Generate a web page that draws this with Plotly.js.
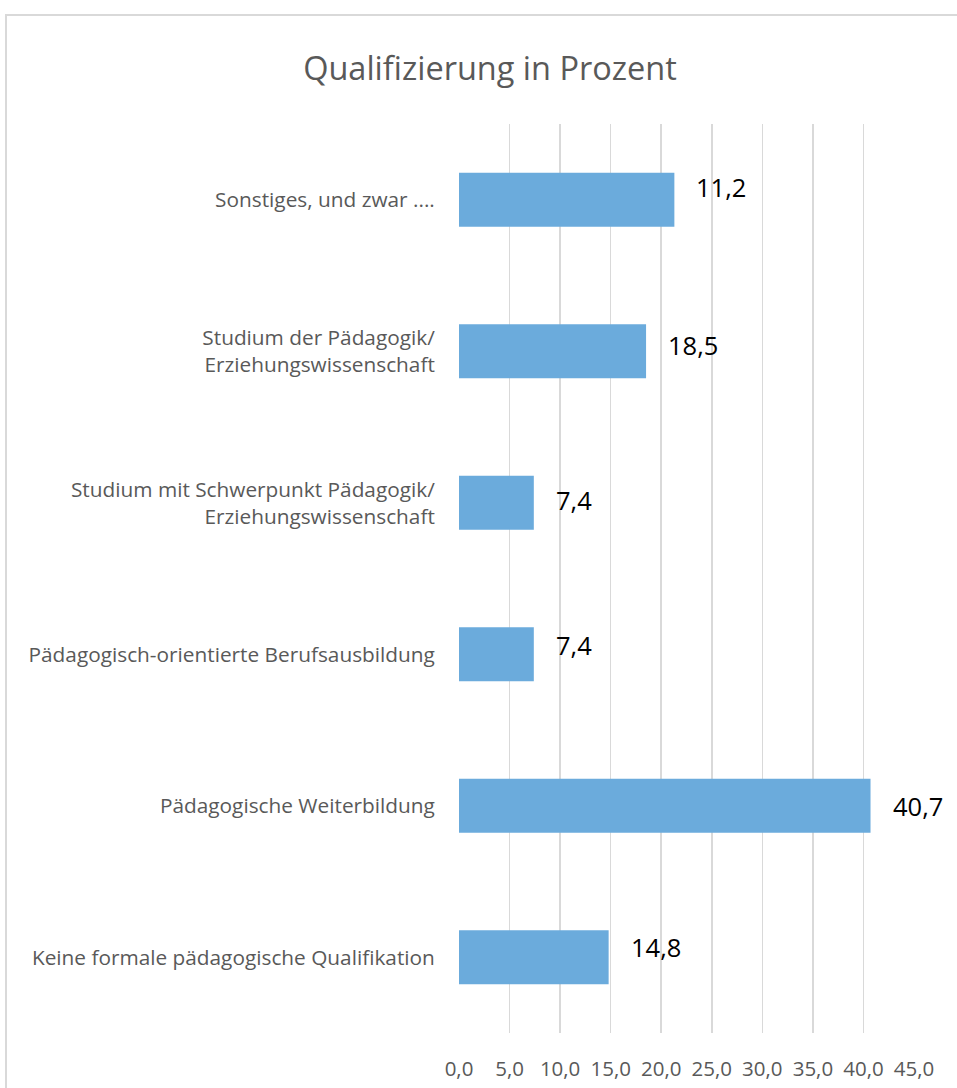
<!DOCTYPE html>
<html>
<head>
<meta charset="utf-8">
<script src="https://cdn.plot.ly/plotly-3.0.1.min.js"></script>
<style>
  html, body { margin: 0; padding: 0; background: #ffffff; }
  #frame { position: absolute; left: 5px; top: 14px; width: 1000px; height: 1200px; border: 2px solid #d9d9d9; box-sizing: border-box; }
  #chart { position: absolute; left: 0; top: 0; width: 957px; height: 1088px; }
</style>
</head>
<body>
<div id="frame"></div>
<div id="chart"></div>
<script>
// Categories, top to bottom as shown in the chart
const categories = [
  "Sonstiges, und zwar ....",
  "Studium der Pädagogik/<br>Erziehungswissenschaft",
  "Studium mit Schwerpunkt Pädagogik/<br>Erziehungswissenschaft",
  "Pädagogisch-orientierte Berufsausbildung",
  "Pädagogische Weiterbildung",
  "Keine formale pädagogische Qualifikation"
];
// Bar lengths as drawn in the picture
const barValues = [21.3, 18.5, 7.4, 7.4, 40.7, 14.8];
// Data labels as printed in the picture
const dataLabels = ["11,2", "18,5", "7,4", "7,4", "40,7", "14,8"];
const tickValues = [0, 5, 10, 15, 20, 25, 30, 35, 40, 45];

const labelYShift = [13, 6, 3, 9, 0, 10];
const FONT = "'Open Sans', Lato, sans-serif";

const trace = {
  type: "bar",
  orientation: "h",
  x: barValues,
  y: categories,
  marker: { color: "#6BABDC" },
  hoverinfo: "none"
};

const annotations = barValues.map((v, i) => ({
  x: v, y: categories[i], xref: "x", yref: "y",
  text: dataLabels[i], showarrow: false,
  xanchor: "left", yanchor: "middle",
  xshift: 20, yshift: labelYShift[i],
  font: { family: FONT, size: 25.5, color: "#000000" }
}));

const layout = {
  width: 957, height: 1088,
  paper_bgcolor: "rgba(0,0,0,0)",
  plot_bgcolor: "rgba(0,0,0,0)",
  separators: ",.",
  margin: { l: 459, r: 43, t: 124, b: 55 },
  showlegend: false,
  bargap: 0.644,
  title: {
    text: "Qualifizierung in Prozent",
    x: 0.512, xanchor: "center",
    y: 0.937, yanchor: "middle",
    font: { family: FONT, size: 32.5, color: "#595959" }
  },
  xaxis: {
    range: [0, 45],
    tickvals: tickValues,
    tickformat: ".1f",
    showgrid: true, gridcolor: "#d9d9d9", gridwidth: 1.5,
    zeroline: false, showline: false,
    ticks: "outside", ticklen: 17, tickcolor: "rgba(0,0,0,0)",
    tickfont: { family: FONT, size: 20.5, color: "#595959" },
    fixedrange: true
  },
  yaxis: {
    autorange: "reversed",
    showgrid: false, zeroline: false, showline: false,
    ticks: "outside", ticklen: 19, tickcolor: "rgba(0,0,0,0)",
    tickfont: { family: FONT, size: 20.8, color: "#595959" },
    fixedrange: true
  },
  annotations: annotations
};

Plotly.newPlot("chart", [trace], layout, { displayModeBar: false, staticPlot: true });
</script>
</body>
</html>
